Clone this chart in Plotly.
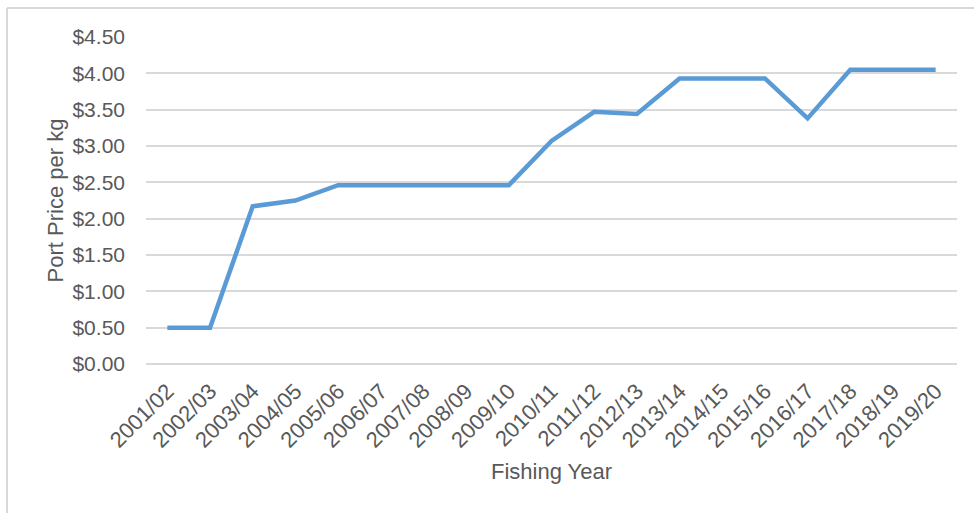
import plotly.graph_objects as go

years = ["2001/02", "2002/03", "2003/04", "2004/05", "2005/06", "2006/07", "2007/08",
         "2008/09", "2009/10", "2010/11", "2011/12", "2012/13", "2013/14", "2014/15",
         "2015/16", "2016/17", "2017/18", "2018/19", "2019/20"]
price = [0.50, 0.50, 2.17, 2.25, 2.46, 2.46, 2.46, 2.46, 2.46, 3.07, 3.47, 3.44,
         3.93, 3.93, 3.93, 3.38, 4.05, 4.05, 4.05]
y_ticks = [0, 0.5, 1.0, 1.5, 2.0, 2.5, 3.0, 3.5, 4.0, 4.5]

FONT = "Liberation Sans Narrow, Arial Narrow, Liberation Sans, Arial, sans-serif"
TXT = "#595959"
GRID = "#d9d9d9"
FS = 22

fig = go.Figure()
fig.add_trace(go.Scatter(x=years, y=price, mode="lines",
                         line=dict(color="#5B9BD5", width=4.5),
                         hoverinfo="x+y", showlegend=False))

W, H = 974, 513
L, R, T, B = 146, 17, 37, 149
pw, ph = W - L - R, H - T - B

def px(x):
    return (x - L) / pw

def py(y):
    return (H - B - y) / ph

fig.update_layout(
    width=W, height=H,
    margin=dict(l=L, r=R, t=T, b=B),
    paper_bgcolor="white", plot_bgcolor="white",
    font=dict(family=FONT, size=FS, color=TXT),
    xaxis=dict(type="category", range=[-0.5, len(years) - 0.5],
               tickangle=-45, showgrid=False, showline=False, zeroline=False,
               ticks="", ticklabelstandoff=9, tickfont=dict(size=FS, color=TXT),
               title=dict(text="Fishing Year", font=dict(size=FS, color=TXT), standoff=12)),
    yaxis=dict(range=[0, 4.5], tickvals=y_ticks,
               ticktext=["$" + format(v, ".2f") for v in y_ticks],
               showgrid=True, gridcolor=GRID, gridwidth=1.5,
               zeroline=True, zerolinecolor=GRID, zerolinewidth=1.5,
               showline=False, ticks="", ticklabelstandoff=20,
               tickfont=dict(size=21, color=TXT),
               title=dict(text="Port Price per kg", font=dict(size=FS, color=TXT), standoff=2)),
    shapes=[
        dict(type="line", xref="paper", yref="paper", x0=px(7), x1=px(7), y0=py(8), y1=py(H + 5),
             line=dict(color=GRID, width=2)),
        dict(type="line", xref="paper", yref="paper", x0=px(7), x1=px(W + 5), y0=py(8), y1=py(8),
             line=dict(color=GRID, width=2)),
    ],
)

fig.write_html("out.html")
